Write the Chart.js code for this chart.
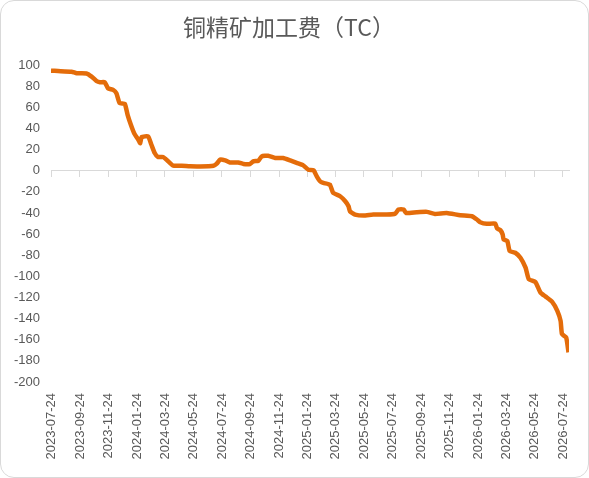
<!DOCTYPE html>
<html>
<head>
<meta charset="utf-8">
<script src="https://cdn.jsdelivr.net/npm/chart.js@4.4.1/dist/chart.umd.min.js"></script>
<style>
  html, body { margin: 0; padding: 0; background: #ffffff; }
  #wrap { position: relative; width: 589px; height: 478px; }
  #frame { position: absolute; left: 0; top: 0; width: 587px; height: 476px; border: 1px solid #d9d9d9; border-radius: 14px; pointer-events: none; box-sizing: content-box; }
  canvas { position: absolute; left: 0; top: 0; }
</style>
</head>
<body>
<div id="wrap">
  <canvas id="c" width="589" height="478"></canvas>
  <div id="frame"></div>
</div>
<script>
const titleText = '铜精矿加工费（TC）';
const startDate = '2023-07-24';
const endDate = '2026-08-06';
const tickDates = ['2023-07-24','2023-09-24','2023-11-24','2024-01-24','2024-03-24','2024-05-24','2024-07-24','2024-09-24','2024-11-24','2025-01-24','2025-03-24','2025-05-24','2025-07-24','2025-09-24','2025-11-24','2026-01-24','2026-03-24','2026-05-24','2026-07-24'];
const dates = ['2023-07-24','2023-08-08','2023-09-06','2023-09-17','2023-10-08','2023-10-19','2023-10-29','2023-11-06','2023-11-16','2023-11-23','2023-12-04','2023-12-11','2023-12-18','2023-12-29','2024-01-04','2024-01-11','2024-01-18','2024-01-27','2024-01-31','2024-02-03','2024-02-17','2024-02-24','2024-03-02','2024-03-09','2024-03-20','2024-03-31','2024-04-11','2024-04-29','2024-05-17','2024-06-07','2024-07-06','2024-07-13','2024-07-20','2024-07-31','2024-08-10','2024-08-28','2024-09-08','2024-09-22','2024-09-29','2024-10-10','2024-10-17','2024-10-31','2024-11-15','2024-12-02','2024-12-17','2024-12-31','2025-01-14','2025-01-25','2025-02-05','2025-02-12','2025-02-19','2025-02-26','2025-03-12','2025-03-19','2025-04-03','2025-04-14','2025-04-21','2025-04-24','2025-05-05','2025-05-23','2025-06-13','2025-07-12','2025-07-30','2025-08-06','2025-08-17','2025-08-22','2025-09-14','2025-10-06','2025-10-23','2025-11-17','2025-12-16','2026-01-10','2026-01-21','2026-01-28','2026-02-11','2026-03-01','2026-03-05','2026-03-12','2026-03-17','2026-03-19','2026-03-27','2026-04-01','2026-04-13','2026-04-24','2026-05-05','2026-05-12','2026-05-26','2026-06-06','2026-06-17','2026-07-01','2026-07-12','2026-07-19','2026-07-22','2026-07-31','2026-08-05'];
const tcValues = [94.6,94.3,93.7,92.2,92,89,85,83.7,83.7,78,76.4,73.3,63.9,63.2,52.8,43.4,35.5,29.2,26,31.8,32.4,24.5,16.7,12.9,12.9,8.8,4.7,4.7,4.1,4,4.7,6.6,10.4,9.7,7.8,7.8,6.3,6.3,8.8,9.4,13.5,14.2,12,12,9.7,7.3,5,0.9,0.3,-5.4,-10,-11.6,-13.2,-21,-24.2,-29,-33.7,-38.4,-41.5,-42.5,-41.5,-41.5,-40.6,-36.8,-36.8,-40,-39.3,-39,-40.9,-40,-42.2,-43.1,-46.2,-48.8,-50.3,-50,-54.7,-56.3,-60.4,-65.1,-66.7,-76.1,-77.7,-82.4,-91.8,-102.8,-105.4,-115.4,-119.2,-124.2,-132.7,-142.2,-154.7,-157.9,-172];
const yMin = -200, yMax = 100, yStep = 20;

const DAY = 86400000;
function dayOf(s) { const p = s.split('-').map(Number); return Date.UTC(p[0], p[1]-1, p[2]); }
const t0 = dayOf(startDate);
const toX = s => (dayOf(s) - t0) / DAY;
const tickXs = tickDates.map(toX);
const xMax = toX(endDate);
const points = dates.map((d, i) => ({ x: toX(d), y: tcValues[i] }));

const grey = '#595959';
const setTicks = scale => { scale.ticks = tickXs.map(v => ({ value: v })); };

new Chart(document.getElementById('c'), {
  type: 'line',
  data: {
    datasets: [{
      data: points,
      borderColor: '#E46C0A',
      borderWidth: 4.5,
      pointRadius: 0,
      tension: 0.15,
      fill: false
    }]
  },
  options: {
    responsive: false,
    animation: false,
    devicePixelRatio: 1,
    layout: { padding: { left: 9, right: 20, top: 0, bottom: 0 } },
    plugins: {
      legend: { display: false },
      tooltip: { enabled: false },
      title: {
        display: true,
        text: titleText,
        color: grey,
        font: { family: '"Noto Sans CJK SC", sans-serif', size: 23, weight: 'normal' },
        padding: { top: 13, bottom: 24.4 }
      }
    },
    scales: {
      x: {
        type: 'linear',
        position: 'bottom',
        min: 0,
        max: xMax,
        afterBuildTicks: setTicks,
        afterFit: s => { s.height = 96; },
        grid: { display: false },
        border: { display: false },
        ticks: {
          autoSkip: false,
          minRotation: 90,
          maxRotation: 90,
          padding: 3,
          color: grey,
          font: { family: '"Liberation Sans", Arial, sans-serif', size: 13 },
          callback: (v, i) => tickDates[i]
        }
      },
      x0: {
        type: 'linear',
        axis: 'x',
        position: { y: 0 },
        min: 0,
        max: xMax,
        afterBuildTicks: setTicks,
        grid: { display: true, drawOnChartArea: false, drawTicks: true, tickLength: 6, color: '#d9d9d9', lineWidth: 1 },
        border: { display: true, color: '#d9d9d9', width: 1 },
        ticks: { display: false }
      },
      y: {
        type: 'linear',
        min: yMin,
        max: yMax,
        afterFit: s => { s.width = 42; },
        grid: { display: false },
        border: { display: false },
        ticks: {
          stepSize: yStep,
          padding: 3,
          color: grey,
          font: { family: '"Liberation Sans", Arial, sans-serif', size: 13 }
        }
      }
    }
  }
});
</script>
</body>
</html>
